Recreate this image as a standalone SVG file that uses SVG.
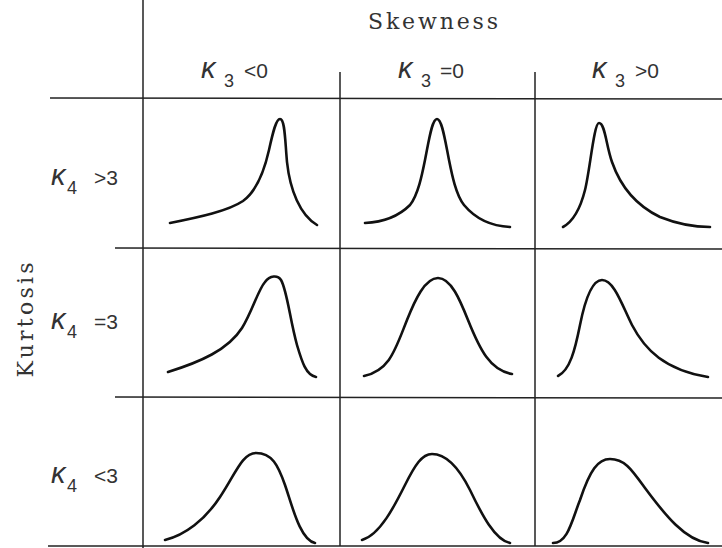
<svg xmlns="http://www.w3.org/2000/svg" width="722" height="548" viewBox="0 0 722 548">
<style>
.grid{stroke:#222;stroke-width:1.5;fill:none}
.curve{stroke:#111;stroke-width:2.6;fill:none;stroke-linecap:round;stroke-linejoin:round}
.title{font-family:"DejaVu Serif","Liberation Serif",serif;font-size:22px;fill:#333}
.k{font-family:"Liberation Sans",Arial,sans-serif;font-style:italic;font-size:29px;fill:#333}
.sub{font-family:"Liberation Sans",Arial,sans-serif;font-size:18px;fill:#333}
.op{font-family:"Liberation Sans",Arial,sans-serif;font-size:21px;fill:#333}
</style>
<rect width="722" height="548" fill="#fff"/>
<g id="grid" class="grid">
<line x1="143" y1="0" x2="143" y2="548"/>
<line x1="340" y1="72" x2="340" y2="546"/>
<line x1="535" y1="72" x2="535" y2="546"/>
<line x1="50" y1="98" x2="722" y2="99"/>
<line x1="115" y1="248" x2="722" y2="249"/>
<line x1="115" y1="397" x2="722" y2="398"/>
<line x1="48" y1="546" x2="722" y2="546"/>
</g>
<g id="headers">
<text class="title" x="433" y="29" text-anchor="middle" textLength="130" lengthAdjust="spacing">Skewness</text>
<text class="title" transform="translate(33,320) rotate(-90)" text-anchor="middle" textLength="115" lengthAdjust="spacing">Kurtosis</text>
</g>
<g id="col-labels">
<text x="201" y="78"><tspan class="k">κ</tspan><tspan class="sub" x="224" y="87">3</tspan><tspan class="op" x="244" y="78">&lt;0</tspan></text>
<text x="398" y="78"><tspan class="k">κ</tspan><tspan class="sub" x="421" y="87">3</tspan><tspan class="op" x="440" y="78">=0</tspan></text>
<text x="592" y="78"><tspan class="k">κ</tspan><tspan class="sub" x="615" y="87">3</tspan><tspan class="op" x="635" y="78">&gt;0</tspan></text>
</g>
<g id="row-labels">
<text x="51" y="185"><tspan class="k">κ</tspan><tspan class="sub" x="67" y="194">4</tspan><tspan class="op" x="94" y="185">&gt;3</tspan></text>
<text x="51" y="329"><tspan class="k">κ</tspan><tspan class="sub" x="67" y="338">4</tspan><tspan class="op" x="94" y="329">=3</tspan></text>
<text x="51" y="483"><tspan class="k">κ</tspan><tspan class="sub" x="67" y="492">4</tspan><tspan class="op" x="94" y="483">&lt;3</tspan></text>
</g>
<g id="curves" class="curve">
<path id="c11" d="M170,223 C200,217 228,211 243,201 C257,191 264,172 269,150 C273,132 276,119 280,119 C285,119 285,140 287,162 C290,190 300,215 317,225"/>
<path id="c12" d="M365,223 C385,222 400,215 410,205 C418,195 422,175 425,160 C429,140 432,119 437,119 C442,119 445,140 449,160 C452,175 456,195 464,205 C474,217 490,226 510,227"/>
<path id="c13" d="M563,227 C572,222 580,210 585,190 C590,170 594,123 599,123 C605,123 606,145 612,162 C620,185 635,205 660,217 C680,225 695,227 710,227"/>
<path id="c21" d="M168,372 C200,362 228,350 242,328 C252,312 258,290 265,282 C270,275 278,275 281,280 C287,290 290,320 297,345 C302,362 306,375 316,377"/>
<path id="c22" d="M364,376 C390,370 395,350 407,320 C415,300 425,278 438,278 C451,278 460,300 468,320 C480,350 490,370 512,374"/>
<path id="c23" d="M558,376 C570,370 575,350 580,325 C585,300 592,280 602,280 C614,280 622,305 632,325 C645,350 665,370 708,377"/>
<path id="c31" d="M165,540 C185,535 205,520 220,497 C235,475 242,453 256,453 C272,453 278,465 285,485 C292,505 300,540 315,543"/>
<path id="c32" d="M362,540 C380,535 395,505 405,485 C415,465 422,454 432,454 C448,454 460,470 470,490 C482,515 495,540 510,543"/>
<path id="c33" d="M553,543 C568,543 572,520 580,500 C590,470 598,459 610,459 C625,459 632,470 645,488 C665,515 685,540 708,543"/>
</g>
</svg>
